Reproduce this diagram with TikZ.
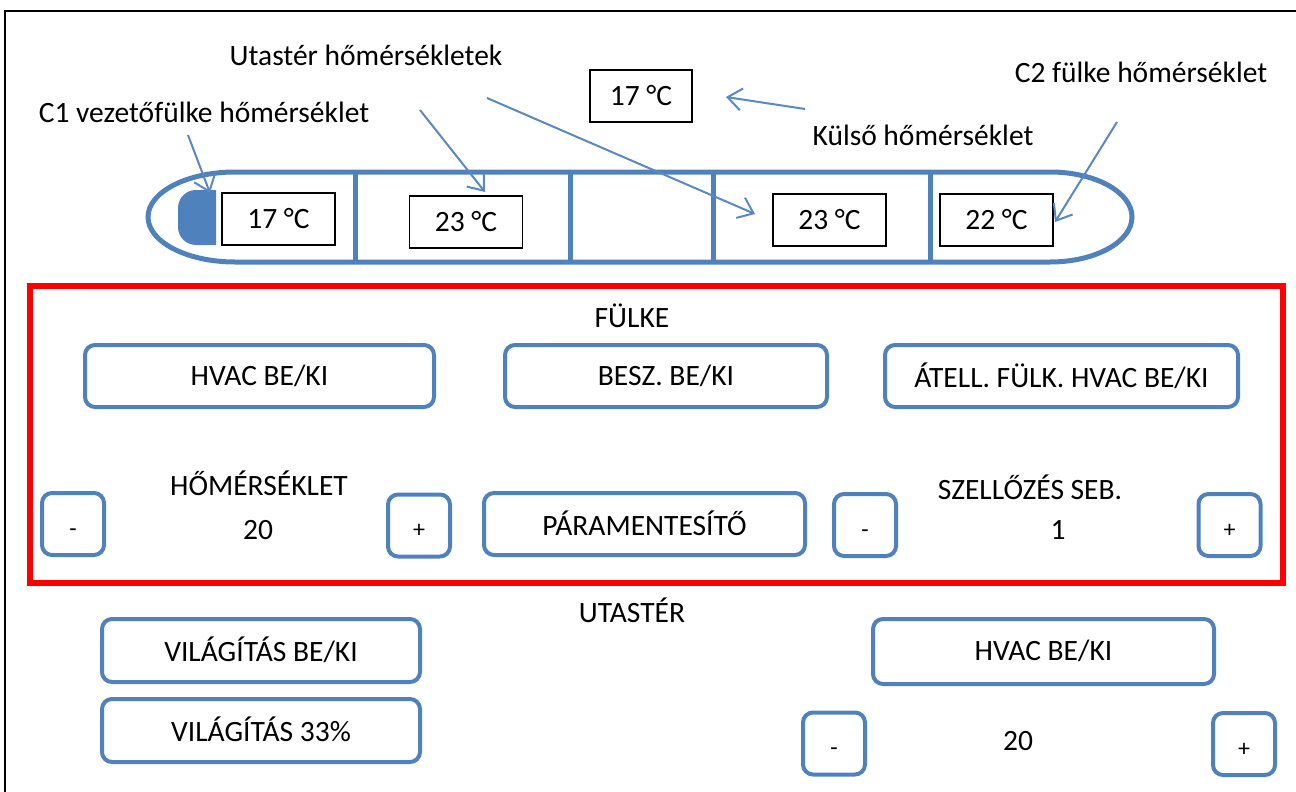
\documentclass[tikz,border=0pt]{standalone}
\usepackage{fontspec}
\setmainfont{Carlito}
\usetikzlibrary{arrows.meta}
\definecolor{ob}{HTML}{4F81BD}
\definecolor{ab}{HTML}{5A88C2}
\begin{document}
\begin{tikzpicture}[x=1pt,y=-1pt,
  lbl/.style={font=\fontsize{29.5}{31}\selectfont, inner sep=0pt, anchor=center},
  btn/.style={draw=ob, line width=4pt, rounded corners=10pt, font=\fontsize{29.5}{31}\selectfont, inner sep=0pt, anchor=center, text depth=2pt},
  pm/.style={btn, minimum width=62pt, minimum height=62pt, font=\fontsize{24}{26}\selectfont, text height=24pt, text depth=0pt},
  tbox/.style={draw=black, line width=1.5pt, inner sep=0pt, minimum width=113pt, minimum height=52pt, font=\fontsize{29.5}{31}\selectfont, anchor=center, text depth=2pt},
  pointer/.style={draw=ab, line width=2pt, -{Straight Barb[length=14pt,width=22pt,line width=2pt]}},
  train/.style={draw=ob, line width=5pt}
]
\useasboundingbox (0,0) rectangle (1296,792);
% outer frame
\draw[line width=2pt] (5,792) -- (5,11) -- (1296,11);

% train body
\draw[train] (235,172) -- (1050,172) arc[start angle=-90, end angle=90, x radius=82, y radius=45]
  -- (235,262) arc[start angle=90, end angle=270, x radius=87, y radius=45] -- cycle;
\foreach \xx in {355,570,713,930} \draw[train] (\xx,172) -- (\xx,262);
\fill[ob] (216,190) [rounded corners=18pt] -- (178,190) -- (178,245) [sharp corners] -- (216,245) -- cycle;

% temperature boxes
\node[tbox] (t1) at (278.5,219) {17 °C};
\node[tbox] (t2) at (466,222) {23 °C};
\node[tbox] (t3) at (829.5,220) {23 °C};
\node[tbox] (t4) at (996.5,220) {22 °C};
\node[tbox, minimum width=102pt] (tout) at (641,96) {17 °C};

% labels
\node[lbl] (lc1) at (204,112) {C1 vezetőfülke hőmérséklet};
\node[lbl] (lut) at (366,55) {Utastér hőmérsékletek};
\node[lbl] (lc2) at (1141,72) {C2 fülke hőmérséklet};
\node[lbl] (lku) at (923,135) {Külső hőmérséklet};

% pointer coordinates
\coordinate (c1s) at (188,135);
\coordinate (c1e) at (210,193);
\coordinate (u1s) at (420,110);
\coordinate (u1e) at (485,192);
\coordinate (u2s) at (487,98);
\coordinate (u2e) at (755,214);
\coordinate (ks) at (805,109);
\coordinate (ke) at (726,97);
\coordinate (c2s) at (1117,122);
\coordinate (c2e) at (1055,222);
\draw[pointer] (c1s) -- (c1e);
\draw[pointer] (u1s) -- (u1e);
\draw[pointer] (u2s) -- (u2e);
\draw[pointer] (ks) -- (ke);
\draw[pointer] (c2s) -- (c2e);

% red frame
\draw[red, line width=6pt] (30,286) rectangle (1283,583);
\node[lbl] (fulke) at (632,316) {FÜLKE};

\node[btn, minimum width=349pt, minimum height=62pt] (b1) at (259.5,376) {HVAC BE/KI};
\node[btn, minimum width=322pt, minimum height=62pt] (b2) at (666,376) {BESZ. BE/KI};
\node[btn, minimum width=353pt, minimum height=62pt] (b3) at (1061.5,376) {ÁTELL. FÜLK. HVAC BE/KI};

\node[lbl] (hom) at (259,483) {HŐMÉRSÉKLET};
\node[lbl] (v20a) at (258,530) {20};
\node[pm] (m1) at (73,524) {-};
\node[pm] (p1) at (419,525.5) {+};
\node[btn, minimum width=321pt, minimum height=62pt] (para) at (644.5,524) {PÁRAMENTESÍTŐ};
\node[pm] (m2) at (865,525) {-};
\node[lbl] (szel) at (1030,487) {SZELLŐZÉS SEB.};
\node[lbl] (v1) at (1058,530) {1};
\node[pm] (p2) at (1229.5,525) {+};

% passenger area
\node[lbl] (utas) at (632,610) {UTASTÉR};
\node[btn, minimum width=318pt, minimum height=63pt] (vil1) at (261,650.5) {VILÁGÍTÁS BE/KI};
\node[btn, minimum width=318pt, minimum height=63pt] (vil2) at (261,730.5) {VILÁGÍTÁS 33\%};
\node[btn, minimum width=341pt, minimum height=65pt] (hv2) at (1043.5,651.5) {HVAC BE/KI};
\node[pm] (m3) at (834,743.5) {-};
\node[lbl] (v20b) at (1018,741) {20};
\node[pm] (p3) at (1244,744) {+};
\end{tikzpicture}
\end{document}
